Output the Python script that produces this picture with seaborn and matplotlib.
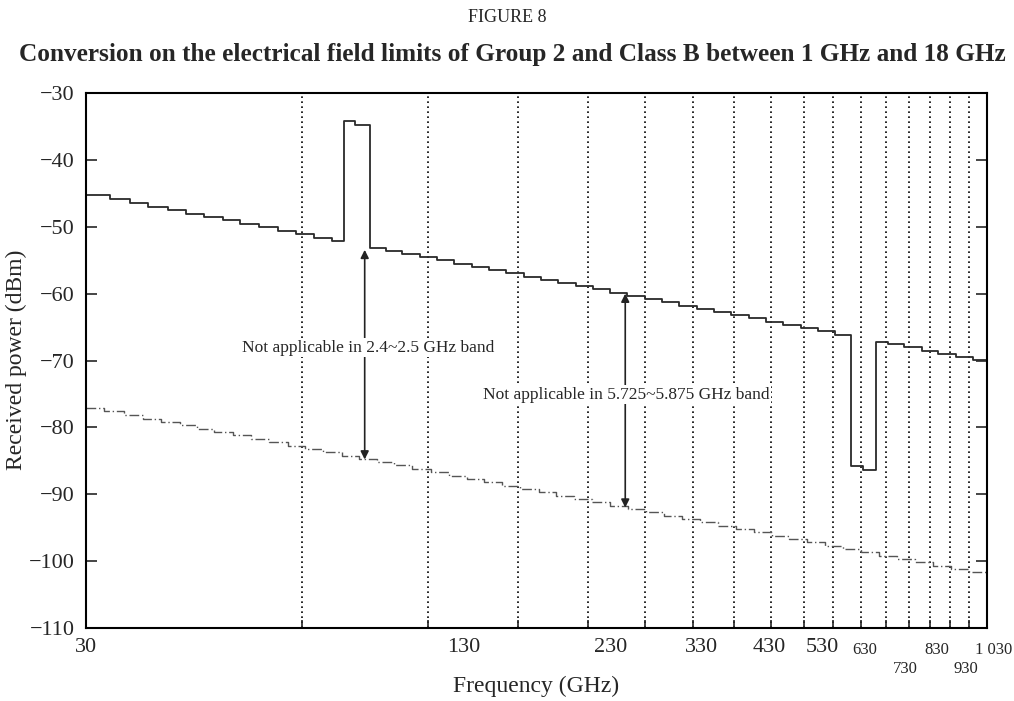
import matplotlib
matplotlib.use("Agg")
import matplotlib.pyplot as plt
import matplotlib.transforms as mtransforms
import seaborn as sns

# upper limit (steps), frequency in GHz / received power in dBm
upper_freq = [1.00, 1.08, 1.15, 1.22, 1.30, 1.38, 1.46, 1.55, 1.64, 1.74, 1.85, 1.96,
              2.08, 2.20, 2.29, 2.37, 2.49, 2.62, 2.76, 2.92, 3.08, 3.26, 3.45, 3.64,
              3.85, 4.07, 4.30, 4.55, 4.81, 5.08, 5.37, 5.68, 6.00, 6.35, 6.71, 7.10,
              7.50, 7.93, 8.38, 8.86, 9.37, 9.90, 10.47, 11.07, 11.64, 12.10, 12.60,
              13.10, 13.80, 14.60, 15.40, 16.30, 17.20, 18.00]
upper_dbm = [-45.25, -45.92, -46.46, -46.98, -47.53, -48.05, -48.54, -49.06, -49.55,
             -50.06, -50.59, -51.10, -51.61, -52.10, -34.25, -34.75, -53.20, -53.62,
             -54.07, -54.56, -55.02, -55.51, -56.01, -56.47, -56.96, -57.44, -57.92,
             -58.41, -58.89, -59.37, -59.85, -60.34, -60.81, -61.31, -61.78, -62.28,
             -62.75, -63.24, -63.71, -64.20, -64.68, -65.16, -65.65, -66.13, -85.80,
             -86.30, -67.25, -67.60, -68.05, -68.54, -69.00, -69.49, -69.96, -70.40]

# lower curve (dash-dot)
lower_freq = [1.00, 1.06, 1.13, 1.20, 1.27, 1.35, 1.43, 1.51, 1.60, 1.70, 1.80, 1.91,
              2.02, 2.14, 2.27, 2.40, 2.54, 2.69, 2.85, 3.02, 3.20, 3.39, 3.59, 3.80,
              4.03, 4.27, 4.52, 4.79, 5.07, 5.37, 5.69, 6.03, 6.39, 6.77, 7.17, 7.59,
              8.04, 8.52, 9.02, 9.55, 10.12, 10.72, 11.35, 12.02, 12.73, 13.49, 14.29,
              15.14, 16.04, 16.99, 18.00]
lower_dbm = [-77.10, -77.61, -78.16, -78.68, -79.18, -79.71, -80.21, -80.68, -81.18,
             -81.71, -82.21, -82.72, -83.21, -83.71, -84.22, -84.70, -85.20, -85.70,
             -86.20, -86.70, -87.20, -87.70, -88.20, -88.70, -89.21, -89.71, -90.20,
             -90.71, -91.20, -91.70, -92.20, -92.71, -93.21, -93.71, -94.21, -94.70,
             -95.21, -95.71, -96.20, -96.70, -97.20, -97.70, -98.20, -98.70, -99.20,
             -99.70, -100.20, -100.70, -101.20, -101.70, -102.00]

grid_freq = list(range(2, 18))
tick_freq = list(range(1, 19))
y_ticks = [-30, -40, -50, -60, -70, -80, -90, -100, -110]

# odd tick labels as printed in the figure, with their positions (GHz)
big_labels = ["30", "130", "230", "330", "430", "530"]
big_label_pos = [1.0, 3.36, 5.39, 7.21, 8.95, 10.62]
small_labels = ["630", "730", "830", "930", "1 030"]
small_label_pos = [12.17, 13.84, 15.3, 16.8, 18.4]
small_label_row = [0, 1, 0, 1, 0]

sns.set_style("ticks")
plt.rcParams["font.family"] = ["Liberation Serif", "DejaVu Serif"]

fig = plt.figure(figsize=(10.14, 7.01), dpi=100)
ax = fig.add_axes([86 / 1014, 1 - 628 / 701, (987 - 86) / 1014, (628 - 93) / 701])

sns.lineplot(x=upper_freq, y=upper_dbm, drawstyle="steps-post", color="#2a2a2a",
             linewidth=1.3, estimator=None, sort=False, ax=ax)
sns.lineplot(x=lower_freq, y=lower_dbm, drawstyle="steps-post", color="#555555",
             linewidth=1.0, linestyle=(0, (7, 2, 1, 2)), estimator=None, sort=False, ax=ax)

for g in grid_freq:
    ax.axvline(g, color="black", linestyle=(0, (1, 2)), linewidth=1.2, zorder=0)

ax.set_xscale("log")
ax.set_xlim(1, 18)
ax.set_ylim(-110, -30)
ax.set_xticks(tick_freq)
ax.set_xticklabels([])
ax.minorticks_off()
ax.set_yticks(y_ticks)
ax.set_yticklabels([str(v).replace("-", "\u2212") for v in y_ticks], fontsize=16)
ax.tick_params(axis="x", direction="in", length=6, width=1.2, bottom=True, top=False)
ax.tick_params(axis="y", direction="in", length=8, width=1.2, left=True, right=True, pad=8)
for s in ax.spines.values():
    s.set_linewidth(1.5)
    s.set_color("black")

trans = mtransforms.blended_transform_factory(ax.transData, ax.transAxes)
for lab, pos in zip(big_labels, big_label_pos):
    ax.text(pos, -0.036, lab, transform=trans, ha="center", va="center", fontsize=16,
            clip_on=False)
for lab, pos, row in zip(small_labels, small_label_pos, small_label_row):
    ax.text(pos, -0.041 - 0.036 * row, lab, transform=trans, ha="center", va="center",
            fontsize=12, clip_on=False)

# annotations
box = dict(facecolor="white", edgecolor="none", pad=1)
ax.annotate("", xy=(2.445, -53.45), xytext=(2.445, -84.8),
            arrowprops=dict(arrowstyle="<|-|>", color="#222222", lw=1.2,
                            mutation_scale=12, shrinkA=0, shrinkB=0))
ax.annotate("", xy=(5.64, -60.0), xytext=(5.64, -92.0),
            arrowprops=dict(arrowstyle="<|-|>", color="#222222", lw=1.2,
                            mutation_scale=12, shrinkA=0, shrinkB=0))
ax.text(1.648, -68.07, "Not applicable in 2.4~2.5 GHz band", ha="left", va="center",
        fontsize=12.5, bbox=box, zorder=5)
ax.text(3.568, -75.1, "Not applicable in 5.725~5.875 GHz band", ha="left", va="center",
        fontsize=12.5, bbox=box, zorder=5)

ax.set_xlabel("")
ax.set_ylabel("")
fig.text((86 + 987) / 2 / 1014, 1 - 686 / 701, "Frequency (GHz)", ha="center",
         va="center", fontsize=17)
fig.text(16 / 1014, 1 - 360 / 701, "Received power (dBm)", rotation=90, ha="center",
         va="center", fontsize=17)
fig.text(0.5, 1 - 18 / 701, "FIGURE 8", ha="center", va="center", fontsize=13)
fig.text(0.505, 1 - 54 / 701,
         "Conversion on the electrical field limits of Group 2 and Class B between 1 GHz and 18 GHz",
         ha="center", va="center", fontsize=18.2, fontweight="bold")

fig.savefig("out.png", dpi=100)
